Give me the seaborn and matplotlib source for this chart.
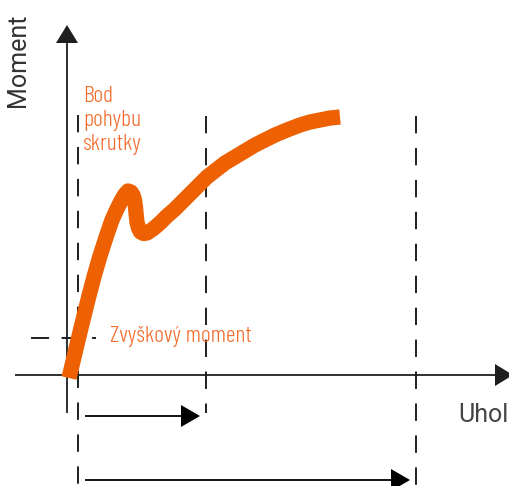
import matplotlib
matplotlib.use("Agg")
import matplotlib.pyplot as plt
import seaborn as sns
from matplotlib import font_manager as fm

# ---- data (angle / moment in chart units, origin at the axes crossing) ----
angle = [2, 7.5, 12.3, 17.2, 22.2, 27.5, 33.3, 39.8, 45, 50, 54, 57.5, 61,
         64, 66, 67.5, 68.5, 69.2, 70, 71.5, 73.5, 76.5, 80, 86, 93, 100,
         108, 116, 124, 132, 140, 149, 158, 168, 178, 188, 198, 208, 220,
         233, 243, 253, 263, 273]
moment = [-3, 20, 40, 60, 80, 100, 120, 140, 155, 166, 174, 180, 184,
          183, 180, 175, 168, 160, 153, 147, 143, 141.5, 142, 146, 152, 159,
          166, 174, 182, 190, 198, 205, 212, 218, 224, 230, 235, 240, 245,
          250, 253, 255, 257, 258]

y_label = "Moment"
x_label = "Uhol"
point_label = ["Bod", "pohybu", "skrutky"]
residual_label = "Zvyškový moment"

# dashed guide positions
start_angle = 11
mid_angle = 139
end_angle = 349
residual_moment = 37

sns.set_theme(style="white")
plt.rcParams["lines.scale_dashes"] = False
plt.rcParams["font.family"] = ["Roboto", "DejaVu Sans"]

# condensed light face for the orange labels
prefs = ["BarlowCondensed-Light.", "RobotoCondensed-Light.",
         "RobotoCondensed-Regular.", "DejaVuSansCondensed."]
all_files = [f.fname for f in fm.fontManager.ttflist]
cond_file = None
for p in prefs:
    hits = sorted(f for f in all_files if f.split("/")[-1].startswith(p))
    if hits:
        cond_file = hits[0]
        break

def cond_prop():
    if cond_file:
        return fm.FontProperties(fname=cond_file)
    return fm.FontProperties(family="DejaVu Sans", stretch="condensed")

fig = plt.figure(figsize=(5.09, 4.86), dpi=100)
ax = fig.add_axes([0, 0, 1, 1])
ax.set_xlim(-67, 442)
ax.set_ylim(-111, 375)
ax.axis("off")

ink = "#1e1e1e"
orange_line = "#ed6102"
orange_text = "#f26a2a"
dash = (0, (12.5, 10.5))

ax.plot([start_angle, start_angle], [260, -111], color=ink, lw=1.4, linestyle=dash)
ax.plot([mid_angle, mid_angle], [259, -38], color=ink, lw=1.4, linestyle=dash)
ax.plot([end_angle, end_angle], [259, -111], color=ink, lw=1.4, linestyle=dash)
ax.plot([-36, 29], [residual_moment, residual_moment], color=ink, lw=1.4,
        linestyle=(0, (13, 9)))

ax.arrow(0, -38, 0, 388, width=1.8, head_width=22, head_length=18,
         length_includes_head=True, color=ink, lw=0)
ax.arrow(-52, 0, 498, 0, width=1.8, head_width=22, head_length=18,
         length_includes_head=True, color=ink, lw=0)
ax.arrow(18, -41, 115, 0, width=1.8, head_width=22, head_length=19,
         length_includes_head=True, color="black", lw=0)
ax.arrow(18, -105, 325, 0, width=1.8, head_width=22, head_length=19,
         length_includes_head=True, color="black", lw=0)

sns.lineplot(x=angle, y=moment, ax=ax, color=orange_line, lw=11, sort=False,
             estimator=None, solid_capstyle="butt", solid_joinstyle="round",
             zorder=5)

ax.text(-49, 315, y_label, rotation=90, ha="center", va="center",
        fontsize=18, color="#333333")
ax.text(391, -47, x_label, ha="left", va="baseline",
        fontsize=18, color="#444444")

res = ax.text(43, 33, residual_label, ha="left", va="baseline",
              color=orange_text, fontproperties=cond_prop())
res.set_fontsize(17)
fig.canvas.draw()
w = res.get_window_extent(fig.canvas.get_renderer()).width
size = min(17 * 142.0 / w, 19.5)
res.set_fontsize(size)
for lbl, yb in zip(point_label, [273, 249, 225]):
    t = ax.text(16, yb, lbl, ha="left", va="baseline",
                color=orange_text, fontproperties=cond_prop())
    t.set_fontsize(size)

fig.savefig("out.png", dpi=100)
